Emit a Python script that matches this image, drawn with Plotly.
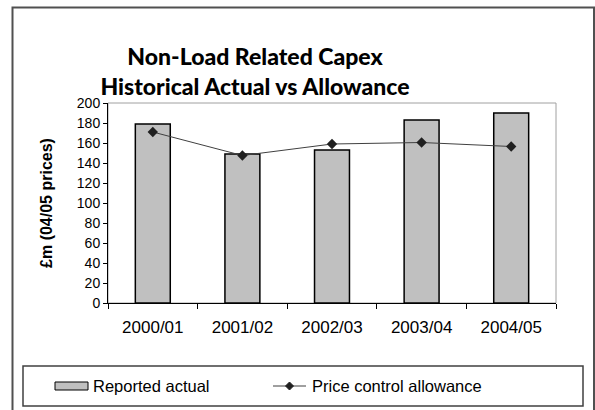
import plotly.graph_objects as go

# Non-load related capex, £m in 04/05 prices
years = ["2000/01", "2001/02", "2002/03", "2003/04", "2004/05"]
reported_actual = [179, 149, 153, 183, 190]
price_control_allowance = [171, 147.5, 159, 160.5, 156.5]
y_ticks = list(range(0, 201, 20))

W, H = 595, 410
L, R, T, B = 108, 39, 103, 107
PW, PH = W - L - R, H - T - B


def px(x):
    """Pixel x -> paper x."""
    return (x - L) / PW


def py(y):
    """Pixel y -> paper y."""
    return (H - B - y) / PH


FONT = "Liberation Sans, Arial, sans-serif"

fig = go.Figure()
fig.add_trace(go.Bar(
    x=years, y=reported_actual, name="Reported actual",
    width=0.39, marker=dict(color="#c0c0c0", line=dict(color="#000000", width=1.5)),
    showlegend=False,
))
fig.add_trace(go.Scatter(
    x=years, y=price_control_allowance, name="Price control allowance",
    mode="lines+markers", line=dict(color="#404040", width=1),
    marker=dict(symbol="diamond", size=8, color="#202020"),
    showlegend=False,
))

n = len(years)
boundaries = [i - 0.5 for i in range(n + 1)]

fig.update_layout(
    width=W, height=H,
    margin=dict(l=L, r=R, t=T, b=B, autoexpand=False),
    paper_bgcolor="white", plot_bgcolor="white",
    font=dict(family=FONT, color="#000000"),
    title=dict(
        text="Non-Load Related Capex<br>Historical Actual vs Allowance",
        font=dict(family="Lato, sans-serif", size=23, color="#000000", weight=900),
        x=px(255), xref="paper", xanchor="center",
        y=1 - 65 / H, yref="container", yanchor="middle",
    ),
    xaxis=dict(
        type="category", range=[-0.5, n - 0.5],
        showline=True, linecolor="#000000", linewidth=1,
        ticks="outside", tickson="boundaries", ticklen=5, tickcolor="#000000",
        tickfont=dict(size=17), ticklabelstandoff=9,
        showgrid=False, zeroline=False,
    ),
    xaxis2=dict(
        overlaying="x", anchor="y", side="bottom", range=[-0.5, n - 0.5],
        tickvals=boundaries, ticks="inside", ticklen=5, tickcolor="#000000",
        showticklabels=False, showline=False, showgrid=False, zeroline=False,
    ),
    yaxis=dict(
        range=[0, 200], tickvals=y_ticks,
        showline=True, linecolor="#000000", linewidth=1,
        ticks="outside", ticklen=4, tickcolor="#000000",
        tickfont=dict(size=14), showgrid=False, zeroline=False,
        title=dict(text="<b>£m (04/05 prices)</b>", font=dict(size=16), standoff=20),
    ),
    yaxis2=dict(
        overlaying="y", anchor="x", side="left", range=[0, 200],
        tickvals=y_ticks, ticks="inside", ticklen=4, tickcolor="#000000",
        showticklabels=False, showline=False, showgrid=False, zeroline=False,
    ),
)

shapes = [
    # outer chart frame
    dict(type="rect", xref="paper", yref="paper",
         x0=px(12.5), x1=px(594), y0=py(414), y1=py(7.5),
         line=dict(color="#505050", width=2), layer="below"),
    # plot area frame (light grey top/right)
    dict(type="rect", xref="paper", yref="paper", x0=0, x1=1, y0=0, y1=1,
         line=dict(color="#a0a0a0", width=1), layer="below"),
    # legend frame
    dict(type="rect", xref="paper", yref="paper",
         x0=px(23), x1=px(583), y0=py(406), y1=py(366),
         line=dict(color="#404040", width=1.5)),
    # legend swatch: bars
    dict(type="rect", xref="paper", yref="paper",
         x0=px(55), x1=px(88), y0=py(390), y1=py(382),
         fillcolor="#c0c0c0", line=dict(color="#000000", width=1)),
    # legend swatch: line
    dict(type="line", xref="paper", yref="paper",
         x0=px(273), x1=px(306), y0=py(386), y1=py(386),
         line=dict(color="#404040", width=1)),
    dict(type="path", xref="paper", yref="paper",
         xsizemode="pixel", ysizemode="pixel",
         xanchor=px(289.5), yanchor=py(386),
         path="M0,4 L4,0 L0,-4 L-4,0 Z",
         fillcolor="#202020", line=dict(color="#202020", width=1)),
]
fig.update_layout(shapes=shapes)

fig.add_annotation(text="Reported actual", xref="paper", yref="paper",
                   x=px(91), y=py(386), xanchor="left", yanchor="middle",
                   showarrow=False, font=dict(size=16.5))
fig.add_annotation(text="Price control allowance", xref="paper", yref="paper",
                   x=px(310), y=py(386), xanchor="left", yanchor="middle",
                   showarrow=False, font=dict(size=16.5))

fig.write_html("out.html")
